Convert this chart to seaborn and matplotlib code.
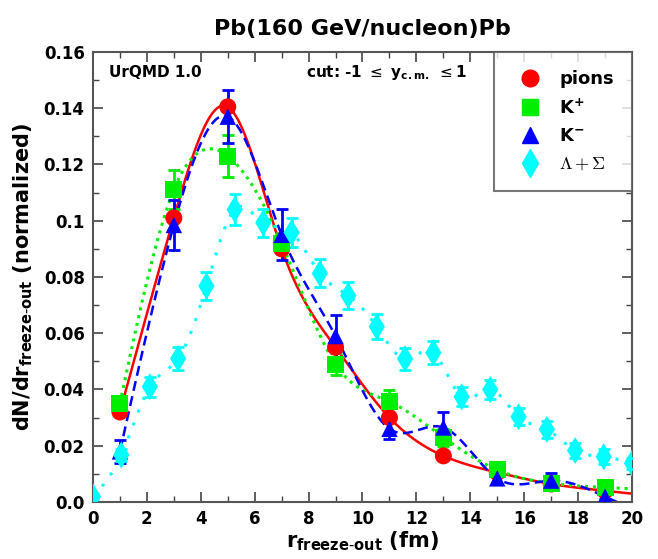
import numpy as np
import pandas as pd
import matplotlib
matplotlib.use("Agg")
import matplotlib.pyplot as plt
import seaborn as sns
from matplotlib.lines import Line2D

# ---------------- data ----------------
r_mes = [1, 3, 5, 7, 9, 11, 13, 15, 17, 19]
pions = [0.032, 0.101, 0.1405, 0.090, 0.055, 0.030, 0.0164, 0.0105, 0.0064, 0.0040]
kplus = [0.035, 0.111, 0.123, 0.092, 0.049, 0.0357, 0.023, 0.0114, 0.0066, 0.0052]
kplus_err = [0.002, 0.007, 0.0075, 0.003, 0.004, 0.004, 0.003, 0.0015, 0.001, 0.001]
kminus = [0.018, 0.0985, 0.137, 0.095, 0.059, 0.026, 0.0265, 0.0084, 0.0076, 0.0019]
kminus_err = [0.004, 0.009, 0.0095, 0.009, 0.0074, 0.0037, 0.0055, 0.002, 0.0028, 0.001]
r_lam = [0.0, 1.05, 2.11, 3.16, 4.21, 5.26, 6.32, 7.37, 8.42, 9.47,
         10.53, 11.58, 12.63, 13.68, 14.74, 15.79, 16.84, 17.89, 18.95, 20.0]
lam = [0.0019, 0.0167, 0.041, 0.051, 0.0768, 0.104, 0.0993, 0.0958, 0.0813, 0.0734,
       0.0623, 0.0509, 0.0531, 0.0374, 0.040, 0.0303, 0.0258, 0.0183, 0.0161, 0.0138]
lam_err = [0.001, 0.002, 0.0036, 0.004, 0.0049, 0.0056, 0.005, 0.005, 0.005, 0.0047,
           0.0045, 0.004, 0.004, 0.0034, 0.0035, 0.003, 0.003, 0.0027, 0.0026, 0.002]

xticks = [0, 2, 4, 6, 8, 10, 12, 14, 16, 18, 20]
yticks = [0.0, 0.02, 0.04, 0.06, 0.08, 0.10, 0.12, 0.14, 0.16]
ytick_labels = ["0.0", "0.02", "0.04", "0.06", "0.08", "0.1", "0.12", "0.14", "0.16"]


def natural_spline(x, y, xs):
    x = np.asarray(x, float); y = np.asarray(y, float)
    n = len(x); h = np.diff(x)
    A = np.zeros((n, n)); b = np.zeros(n)
    A[0, 0] = 1; A[-1, -1] = 1
    for i in range(1, n - 1):
        A[i, i - 1] = h[i - 1]; A[i, i] = 2 * (h[i - 1] + h[i]); A[i, i + 1] = h[i]
        b[i] = 3 * ((y[i + 1] - y[i]) / h[i] - (y[i] - y[i - 1]) / h[i - 1])
    c = np.linalg.solve(A, b)
    a = y[:-1]
    bb = (y[1:] - y[:-1]) / h - h * (2 * c[:-1] + c[1:]) / 3
    d = (c[1:] - c[:-1]) / (3 * h)
    idx = np.clip(np.searchsorted(x, xs) - 1, 0, n - 2)
    dx = xs - x[idx]
    return a[idx] + bb[idx] * dx + c[idx] * dx ** 2 + d[idx] * dx ** 3


sns.set_style("ticks")
plt.rcParams['font.family'] = ['DejaVu Sans']
plt.rcParams['mathtext.fontset'] = 'dejavusans'
plt.rcParams['text.color'] = 'black'
plt.rcParams['axes.labelcolor'] = 'black'
plt.rcParams['xtick.labelcolor'] = 'black'
plt.rcParams['ytick.labelcolor'] = 'black'

fig = plt.figure(figsize=(6.58, 5.59), dpi=100)
ax = fig.add_axes([0.1413, 0.102, 0.8192, 0.805])

RED, GREEN, BLUE, CYAN = "#ff0000", "#00ee00", "#0000ff", "#00ffff"

xs = np.linspace(1, 20, 400)
xs_l = np.linspace(0, 20, 400)
curves = pd.DataFrame({
    "r": np.concatenate([xs, xs, xs, xs_l]),
    "v": np.concatenate([natural_spline(r_mes, pions, xs),
                         natural_spline(r_mes, kplus, xs),
                         natural_spline(r_mes, kminus, xs),
                         natural_spline(r_lam, lam, xs_l)]),
    "s": ["pions"] * 400 + ["K+"] * 400 + ["K-"] * 400 + ["lam"] * 400,
})
styles = {"pions": (RED, "-", 1.8), "K+": (GREEN, (0, (1, 1.6)), 2.2),
          "K-": (BLUE, (0, (4, 2.2)), 1.8), "lam": (CYAN, (0, (1, 3.5)), 2.2)}
for key, (col, ls, lw) in styles.items():
    sub = curves[curves["s"] == key]
    sns.lineplot(data=sub, x="r", y="v", ax=ax, color=col, lw=lw, linestyle=ls,
                 legend=False, zorder=2)

# markers and error bars
ax.errorbar(r_mes, kplus, yerr=kplus_err, fmt="none", ecolor=GREEN, elinewidth=2,
            capsize=4, capthick=2, zorder=3)
ax.errorbar(r_mes, kminus, yerr=kminus_err, fmt="none", ecolor=BLUE, elinewidth=2,
            capsize=4, capthick=2, zorder=3)
ax.errorbar(r_lam, lam, yerr=lam_err, fmt="none", ecolor=CYAN, elinewidth=2,
            capsize=4, capthick=2, zorder=3)

sns.scatterplot(x=r_mes, y=pions, ax=ax, marker="o", color=RED, s=150,
                edgecolor="none", zorder=4)
sns.scatterplot(x=r_mes, y=kplus, ax=ax, marker="s", color=GREEN, s=150,
                edgecolor="none", zorder=4)
sns.scatterplot(x=r_mes, y=kminus, ax=ax, marker="^", color=BLUE, s=140,
                edgecolor="none", zorder=4)
sns.scatterplot(x=r_lam, y=lam, ax=ax, marker="d", color=CYAN, s=190,
                edgecolor="none", zorder=4)

ax.set_xlim(0, 20)
ax.set_ylim(0, 0.16)
ax.set_xticks(xticks)
ax.set_xticks(np.arange(0, 21, 1), minor=True)
ax.set_yticks(yticks)
ax.set_yticklabels(ytick_labels)
ax.set_yticks(np.arange(0, 0.1601, 0.01), minor=True)
ax.tick_params(which="both", direction="in", top=True, right=True, color="#444444")
ax.tick_params(which="major", length=7, width=1.2, labelsize=12, pad=6)
ax.tick_params(which="minor", length=4, width=1.0)
for lab in ax.get_xticklabels() + ax.get_yticklabels():
    lab.set_fontweight("bold")
for sp in ax.spines.values():
    sp.set_color("#555555")
    sp.set_linewidth(1.5)

ax.set_xlabel(r"r$_{\mathbf{freeze\text{-}out}}$ (fm)", fontsize=15, fontweight="bold", labelpad=1)
ax.set_ylabel(r"dN/dr$_{\mathbf{freeze\text{-}out}}$ (normalized)", fontsize=15,
              fontweight="bold", labelpad=6)
ax.set_title("Pb(160 GeV/nucleon)Pb", fontsize=16, fontweight="bold", pad=12)

ax.text(0.03, 0.955, "UrQMD 1.0", transform=ax.transAxes, fontsize=11,
        fontweight="bold", va="center", ha="left")
ax.text(0.395, 0.955, r"cut: -1 $\leq$ y$_{\mathbf{c.m.}}$ $\leq$1", transform=ax.transAxes,
        fontsize=11, fontweight="bold", va="center", ha="left")

handles = [
    Line2D([], [], marker="o", color=RED, ls="none", markersize=12),
    Line2D([], [], marker="s", color=GREEN, ls="none", markersize=11),
    Line2D([], [], marker="^", color=BLUE, ls="none", markersize=11),
    Line2D([], [], marker="d", color=CYAN, ls="none", markersize=14),
]
labels = ["pions", r"K$^{\mathbf{+}}$", r"K$^{\mathbf{-}}$", r"$\Lambda + \Sigma$"]
leg = ax.legend(handles, labels, loc="upper right", frameon=True,
                fancybox=False, edgecolor="#555555", borderaxespad=0,
                handletextpad=0.6, labelspacing=0.55, borderpad=1.0,
                prop={"weight": "bold", "size": 13})
leg.get_frame().set_linewidth(1.5)
leg.get_texts()[3].set_math_fontfamily("cm")

fig.savefig("out.png", dpi=100)
